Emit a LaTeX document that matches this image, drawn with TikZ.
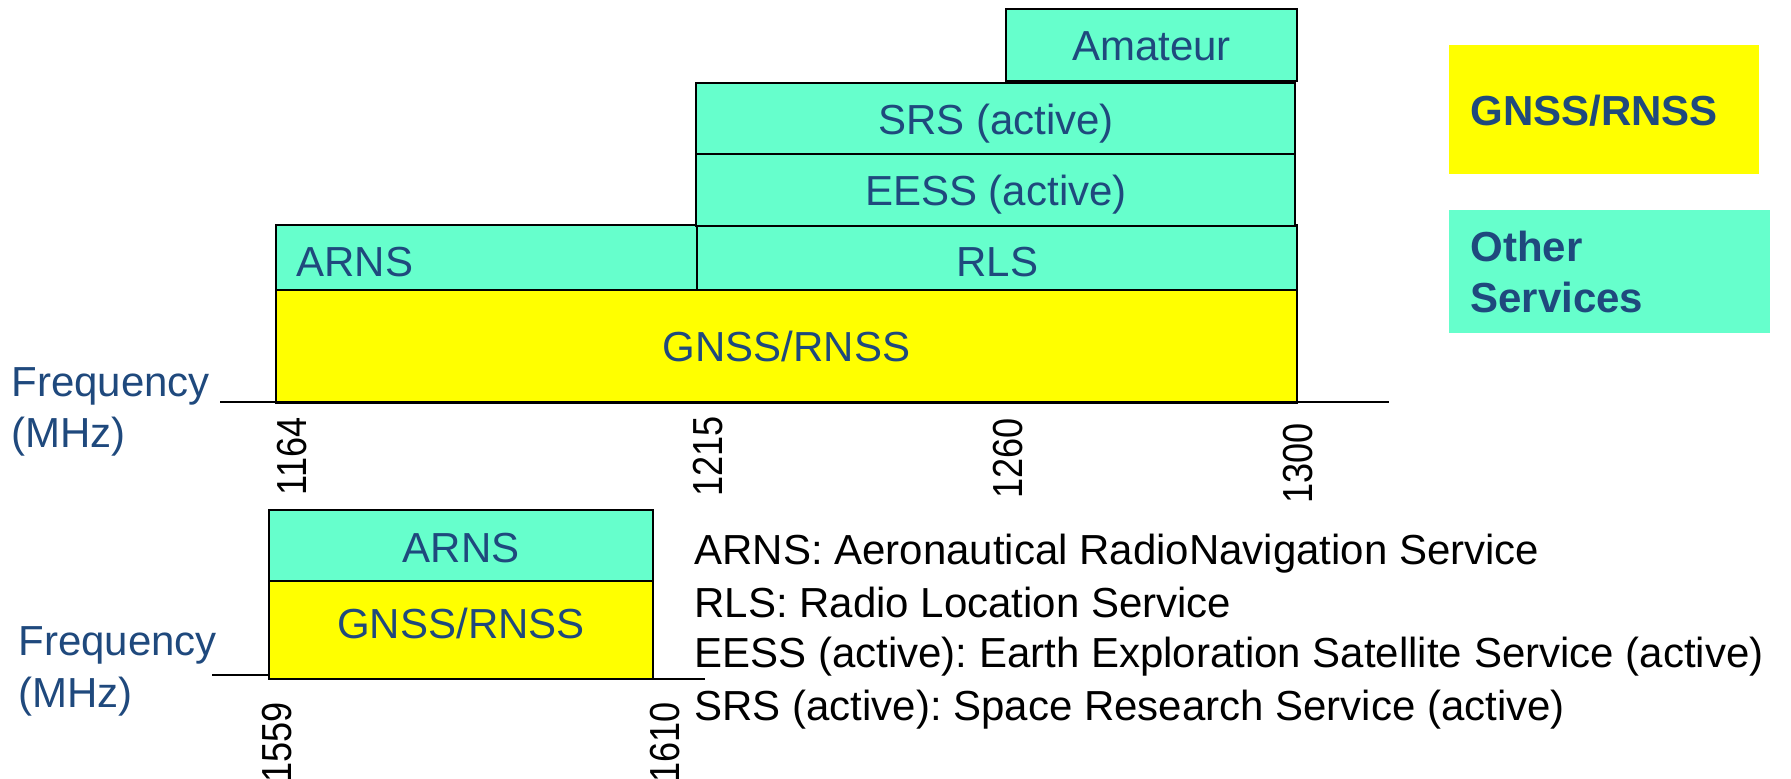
\documentclass[tikz,border=0pt]{standalone}
\usepackage{fontspec}
\setmainfont{Liberation Sans}
\usetikzlibrary{fit}
\definecolor{txtblue}{RGB}{31,73,125}
\definecolor{othercol}{RGB}{102,255,204}
\definecolor{gnsscol}{RGB}{255,255,0}
\frenchspacing
\begin{document}
\begin{tikzpicture}[x=0.5pt,y=-0.5pt,
  otherbox/.style={draw=black, line width=1pt, fill=othercol, inner sep=0pt},
  gnssbox/.style={draw=black, line width=1pt, fill=gnsscol, inner sep=0pt},
  lbl/.style={text=txtblue, inner sep=0pt, font=\fontsize{21}{25.75}\selectfont},
  leglbl/.style={text=txtblue, inner sep=0pt, font=\fontsize{21}{25.75}\selectfont\bfseries},
  desc/.style={text=black, inner sep=0pt, anchor=base west, font=\fontsize{21}{25.75}\selectfont},
  ticklbl/.style={text=black, inner sep=0pt, rotate=90, anchor=east, font=\fontsize{21}{25.75}\selectfont},
  axisline/.style={draw=black, line width=1.2pt}]
\useasboundingbox (0,0) rectangle (1791,779);

% ---------- upper band plan ----------
\node[gnssbox, fit={(276,290)(1297,403)}] (gnssA) {};
\node[otherbox, fit={(276,225)(697,290)}] (arnsA) {};
\node[otherbox, fit={(697,225)(1297,290)}] (rls) {};
\node[otherbox, fit={(696,154)(1295,226)}] (eess) {};
\node[otherbox, fit={(696,83)(1295,154)}] (srs) {};
\node[otherbox, fit={(1006,9)(1297,81)}] (amateur) {};

\node[lbl, anchor=base] (tgnssA) at (786.5,362) {GNSS/RNSS};
\node[lbl, anchor=base west] (tarnsA) at (296,277) {ARNS};
\node[lbl, anchor=base] (trls) at (997.5,277) {RLS};
\node[lbl, anchor=base] (teess) at (996,206) {EESS (active)};
\node[lbl, anchor=base] (tsrs) at (996,135) {SRS (active)};
\node[lbl, anchor=base] (tamateur) at (1151.5,61) {Amateur};

\coordinate (axAL) at (220,402);
\coordinate (axAR) at (1389,402);
\draw[axisline] (axAL) -- (axAR);

\node[lbl, anchor=base west] (freqA) at (11,397) {Frequency};
\node[lbl, anchor=base west] (mhzA) at (11,448) {(MHz)};

\node[ticklbl] (t1164) at (292,417) {\scalebox{0.86}[1]{1164}};
\node[ticklbl] (t1215) at (708,416) {\scalebox{0.86}[1]{1215}};
\node[ticklbl] (t1260) at (1008,418) {\scalebox{0.86}[1]{1260}};
\node[ticklbl] (t1300) at (1298,423) {\scalebox{0.86}[1]{1300}};

% ---------- lower band plan ----------
\node[gnssbox, fit={(269,581)(653,679)}] (gnssB) {};
\node[otherbox, fit={(269,510)(653,581)}] (arnsB) {};
\node[lbl, anchor=base] (tarnsB) at (461,562) {ARNS};
\node[lbl, anchor=base] (tgnssB) at (461,638) {GNSS/RNSS};

\coordinate (axBL) at (212,675);
\coordinate (axBR) at (705,679);
\draw[axisline] (axBL) -- (gnssB.south west |- axBL);
\draw[axisline] (gnssB.south east |- axBR) -- (axBR);

\node[lbl, anchor=base west] (freqB) at (18,655) {Frequency};
\node[lbl, anchor=base west] (mhzB) at (18,707) {(MHz)};

\node[ticklbl] (t1559) at (277,702) {\scalebox{0.86}[1]{1559}};
\node[ticklbl] (t1610) at (665,702) {\scalebox{0.86}[1]{1610}};

% ---------- abbreviations ----------
\node[desc] (d1) at (694,565) {ARNS: Aeronautical RadioNavigation Service};
\node[desc] (d2) at (694,617) {RLS: Radio Location Service};
\node[desc] (d3) at (694,667) {EESS (active): Earth Exploration Satellite Service (active)};
\node[desc] (d4) at (694,720) {SRS (active): Space Research Service (active)};

% ---------- legend ----------
\node[fill=gnsscol, inner sep=0pt, fit={(1449,45)(1759,174)}] (legG) {};
\node[fill=othercol, inner sep=0pt, fit={(1449,210)(1770,333)}] (legO) {};
\node[leglbl, anchor=base west] (tlegG) at (1470,126) {GNSS/RNSS};
\node[leglbl, anchor=base west] (tlegO1) at (1470,262) {Other};
\node[leglbl, anchor=base west] (tlegO2) at (1470,313) {Services};
\end{tikzpicture}
\end{document}
